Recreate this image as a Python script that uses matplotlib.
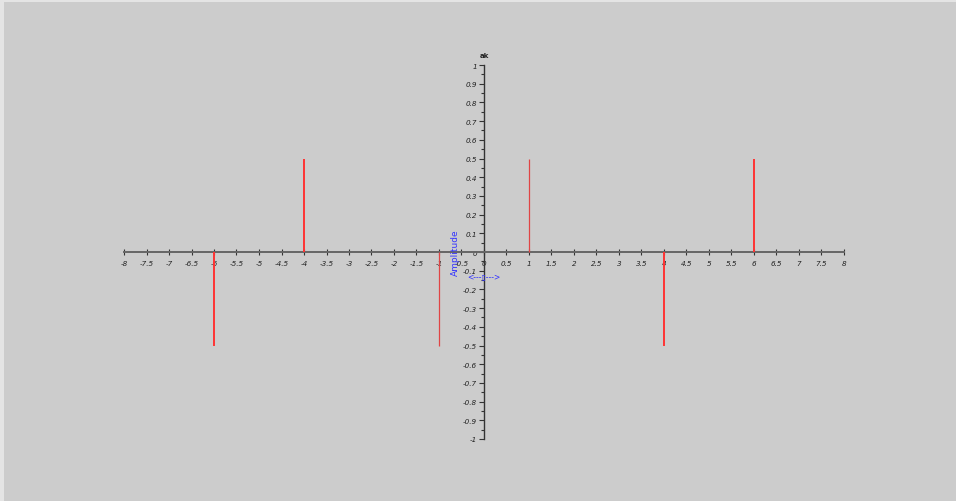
import matplotlib
matplotlib.use("Agg")
import matplotlib.pyplot as plt
import numpy as np
from matplotlib.patches import Rectangle

# Spectral lines: frequency index k and coefficient a_k
k_main = [-6, -4, 4, 6]
a_main = [-0.5, 0.5, -0.5, 0.5]
k_fund = [-1, 1]
a_fund = [-0.5, 0.5]

x_ticks = np.arange(-8, 8.01, 0.5)
y_ticks = np.arange(-1, 1.001, 0.1)

def fmt(v):
    v = round(v, 2)
    if abs(v) < 1e-9:
        return "0"
    return f"{v:g}"

W, H = 956, 502
fig = plt.figure(figsize=(W / 100, H / 100), dpi=100)
fig.patch.set_facecolor("#e4e4e4")
fig.patches.append(Rectangle((4 / W, 0), 1, 1 - 3 / H, transform=fig.transFigure,
                             facecolor="#cccccc", edgecolor="none", zorder=-10))

ax = fig.add_axes([124 / W, 62 / H, 720 / W, 374 / H])
ax.set_facecolor("none")
ax.set_xlim(-8, 8)
ax.set_ylim(-1, 1)

for s in ("top", "right"):
    ax.spines[s].set_visible(False)
ax.spines["left"].set_position(("data", 0))
ax.spines["bottom"].set_position(("data", 0))
ax.spines["bottom"].set_color("#666666")
ax.spines["bottom"].set_linewidth(1.4)
ax.spines["left"].set_color("#333333")
ax.spines["left"].set_linewidth(1.0)

ax.set_xticks(x_ticks)
ax.set_xticklabels([fmt(v) for v in x_ticks])
ax.set_yticks(y_ticks)
ax.set_yticklabels([fmt(v) for v in y_ticks])
ax.set_yticks(np.arange(-0.95, 1.0, 0.1), minor=True)

ax.tick_params(axis="x", direction="inout", length=5, width=0.8, color="#333333",
               labelsize=5.2, pad=3, labelcolor="#222222")
ax.tick_params(axis="y", which="major", direction="out", length=3.5, width=0.8,
               color="#333333", labelsize=5.2, pad=1.5, labelcolor="#222222")
ax.tick_params(axis="y", which="minor", direction="out", length=2.5, width=0.8,
               color="#333333")
for lab in ax.get_xticklabels() + ax.get_yticklabels():
    lab.set_fontstyle("italic")
    lab.set_family("DejaVu Sans")

ax.vlines(k_main, 0, a_main, colors="#ff3333", linewidth=1.4, zorder=3)
ax.vlines(k_fund, 0, a_fund, colors="#e04545", linewidth=0.9, zorder=3)

ax.text(0, 1.04, "ak", ha="center", va="bottom", fontsize=5, fontweight="bold",
        color="#222222")
ax.text(-0.64, 0.0, "Amplitude", rotation=90, ha="center", va="center",
        fontsize=6.5, color="#3333ff")
ax.text(0.0, -0.13, "<---\u25af--->", ha="center", va="center",
        fontsize=5.5, color="#3333ff")

fig.savefig("out.png", dpi=100, facecolor=fig.get_facecolor())
